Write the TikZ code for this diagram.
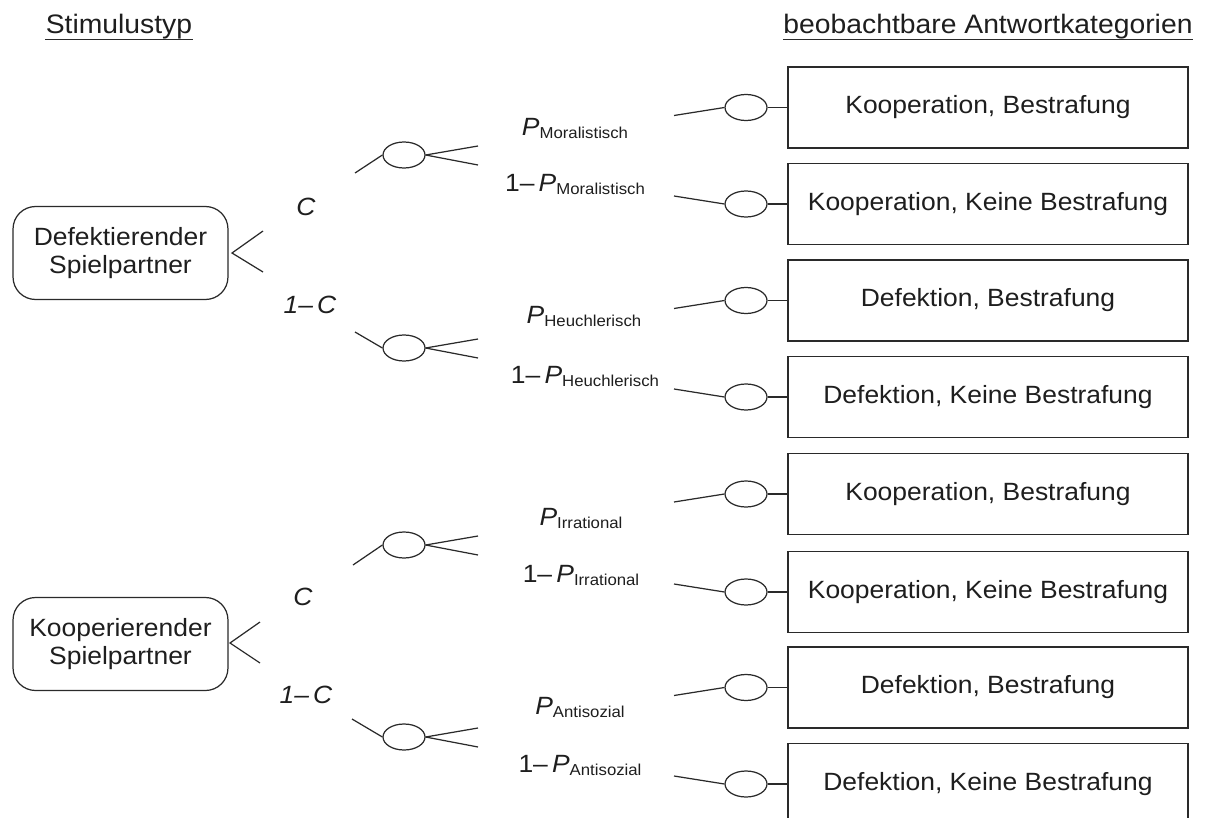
\documentclass[tikz,border=0pt]{standalone}
\usepackage{fontspec}
\setmainfont[FakeStretch=1.06]{Liberation Sans}
\usetikzlibrary{shapes.geometric}
\definecolor{inkc}{HTML}{1E1E1E}
\definecolor{linec}{HTML}{2A2A2A}
\newcommand\lblsub[1]{\raisebox{-0.25ex}{\fontsize{9}{10}\selectfont #1}}
\begin{document}
\begin{tikzpicture}[x=0.02cm,y=-0.02cm,
  line width=0.7pt,
  every node/.style={text=inkc},
  hdr/.style={anchor=base, inner sep=0pt, font=\fontsize{15.2}{17}\selectfont},
  stimbox/.style={draw=linec, rounded corners=0.45cm, minimum width=4.3cm, minimum height=1.86cm,
     align=center, inner sep=0pt, font=\fontsize{14.2}{15.6}\selectfont},
  outbox/.style={draw=linec, minimum width=8cm, minimum height=1.62cm, inner sep=0pt,
     font=\fontsize{14.2}{16}\selectfont},
  chance/.style={draw=linec, ellipse, minimum width=0.84cm, minimum height=0.52cm, inner sep=0pt},
  lbl/.style={anchor=base, inner sep=0pt, font=\fontsize{14.2}{16}\selectfont},
  conn/.style={draw=linec, line width=0.7pt}
]
\useasboundingbox (0,0) rectangle (1207,818);
\clip (0,0) rectangle (1207,818);

% headers
\node[hdr] (h1) at (119,33) {Stimulustyp};
\node[hdr] (h2) at (988,33) {beobachtbare Antwortkategorien};
\draw[conn] ([yshift=-3.5pt]h1.base west) -- ([yshift=-3.5pt]h1.base east);
\draw[conn] ([yshift=-3.5pt]h2.base west) -- ([yshift=-3.5pt]h2.base east);

% stimulus boxes
\node[stimbox] (s1) at (120.5,253) {Defektierender\\Spielpartner};
\node[stimbox] (s2) at (120.5,644) {Kooperierender\\Spielpartner};

% forks
\coordinate (a1) at (232,253);
\coordinate (a1t) at (263,231);
\coordinate (a1b) at (263,272);
\coordinate (a2) at (230,643);
\coordinate (a2t) at (260,622);
\coordinate (a2b) at (260,663);
\draw[conn] (a1t) -- (a1) -- (a1b);
\draw[conn] (a2t) -- (a2) -- (a2b);

% C labels
\node[lbl] (c1) at (306,215) {\textit{C}};
\node[lbl] (c2) at (310,313) {\textit{1–\,C}};
\node[lbl] (c3) at (303,605) {\textit{C}};
\node[lbl] (c4) at (306,703) {\textit{1–\,C}};

% middle chance nodes
\node[chance] (m1) at (404,155) {};
\node[chance] (m2) at (404,348) {};
\node[chance] (m3) at (404,545) {};
\node[chance] (m4) at (404,737) {};

\coordinate (i1) at (355,173);
\coordinate (i2) at (355,332);
\coordinate (i3) at (353,565);
\coordinate (i4) at (352,719);
\draw[conn] (i1) -- (m1.west);
\draw[conn] (i2) -- (m2.west);
\draw[conn] (i3) -- (m3.west);
\draw[conn] (i4) -- (m4.west);

\foreach \m/\c in {m1/155,m2/348,m3/545,m4/737}{
  \coordinate (\m u) at (478,\c-9);
  \coordinate (\m d) at (478,\c+10);
  \draw[conn] (\m.east) -- (\m u);
  \draw[conn] (\m.east) -- (\m d);
}

% probability labels
\node[lbl] (p1) at (575,135) {\textit{P}\/\lblsub{Moralistisch}};
\node[lbl] (q1) at (575,191) {1–\,\textit{P}\/\lblsub{Moralistisch}};
\node[lbl] (p2) at (584,323) {\textit{P}\/\lblsub{Heuchlerisch}};
\node[lbl] (q2) at (585,383) {1–\,\textit{P}\/\lblsub{Heuchlerisch}};
\node[lbl] (p3) at (581,525) {\textit{P}\/\lblsub{Irrational}};
\node[lbl] (q3) at (581,582) {1–\,\textit{P}\/\lblsub{Irrational}};
\node[lbl] (p4) at (580,714) {\textit{P}\/\lblsub{Antisozial}};
\node[lbl] (q4) at (580,772) {1–\,\textit{P}\/\lblsub{Antisozial}};

% outcome boxes, right chance nodes and connectors
\foreach \i/\y/\t/\s in {
  1/107.5/Kooperation{,} Bestrafung/8,
  2/204/Kooperation{,} Keine Bestrafung/-8,
  3/300.5/Defektion{,} Bestrafung/8,
  4/397/Defektion{,} Keine Bestrafung/-8,
  5/494/Kooperation{,} Bestrafung/8,
  6/592/Kooperation{,} Keine Bestrafung/-8,
  7/687.5/Defektion{,} Bestrafung/8,
  8/784/Defektion{,} Keine Bestrafung/-8}{
  \node[outbox] (b\i) at (988,\y) {\t};
  \node[chance] (r\i) at (746,\y) {};
  \coordinate (e\i) at (674,\y+\s);
  \draw[conn] (r\i.east) -- (b\i.west);
  \draw[conn] (e\i) -- (r\i.west);
}
\end{tikzpicture}
\end{document}
